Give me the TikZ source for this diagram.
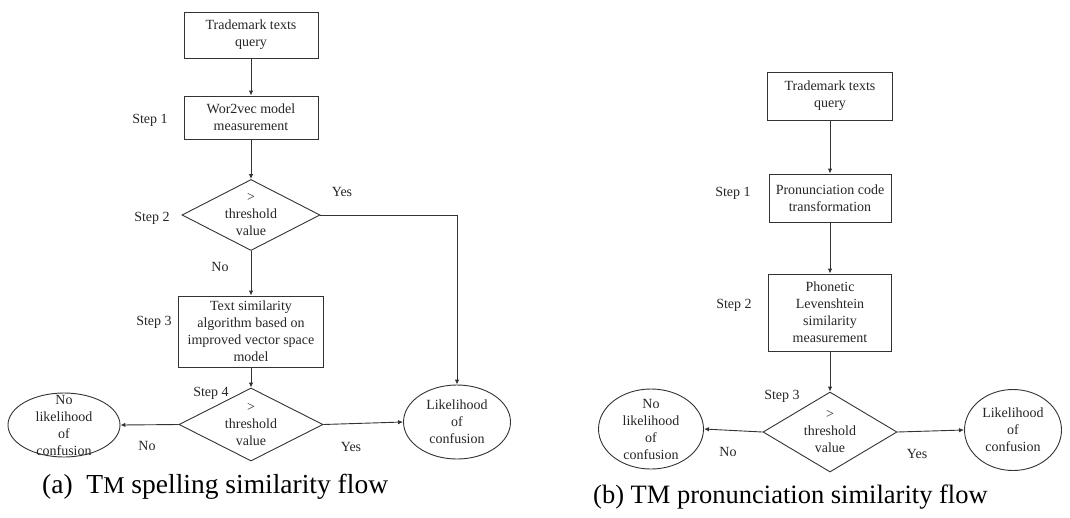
\documentclass[tikz,border=0pt]{standalone}
\usepackage{fontspec}
\setmainfont{Liberation Serif}
\usetikzlibrary{shapes.geometric,arrows.meta}
\begin{document}
\begin{tikzpicture}[x=1pt,y=-1pt,
  every node/.style={font=\fontsize{14}{17}\selectfont, text=black!85, inner sep=0pt},
  stepbox/.style={draw=black!80, line width=0.9pt, rectangle, align=center},
  dec/.style={draw=black!80, line width=0.9pt, diamond},
  ell/.style={draw=black!80, line width=0.9pt, ellipse},
  intext/.style={align=center},
  lbl/.style={font=\fontsize{14}{17}\selectfont},
  captxt/.style={anchor=base west, text=black, font=\fontsize{26.5}{30}\selectfont},
  arr/.style={draw=black!80, line width=0.9pt, -{Latex[length=5pt,width=4.5pt]}}]
\useasboundingbox (0,0) rectangle (1070,517);

% ---------- (a) ----------
\node[stepbox, minimum width=134pt, minimum height=46pt] (a1) at (251,35) {Trademark texts\\query};
\node[stepbox, minimum width=134pt, minimum height=43pt] (a2) at (251,117.5) {Wor2vec model\\measurement};
\node[dec, minimum width=138pt, minimum height=71pt] (ad1) at (251,215) {};
\node[intext] (ad1t) at (ad1) {>\\threshold\\value};
\node[stepbox, minimum width=145pt, minimum height=71pt] (a3) at (251,331.5) {Text similarity\\algorithm based on\\improved vector space\\model};
\node[dec, minimum width=144pt, minimum height=73pt] (ad2) at (251,424.5) {};
\node[intext] (ad2t) at (ad2) {>\\threshold\\value};
\node[ell, minimum width=112pt, minimum height=64pt] (ae1) at (64,425) {};
\node[intext] (ae1t) at (ae1) {No\\likelihood\\of\\confusion};
\node[ell, minimum width=107pt, minimum height=74pt] (ae2) at (457,422) {};
\node[intext] (ae2t) at (ae2) {Likelihood\\of\\confusion};

\node[lbl] (as1) at (150,120) {Step 1};
\node[lbl] (as2) at (152,218) {Step 2};
\node[lbl] (ay1) at (342,192) {Yes};
\node[lbl] (an1) at (220,267) {No};
\node[lbl] (as3) at (154,322) {Step 3};
\node[lbl] (as4) at (211,393) {Step 4};
\node[lbl] (an2) at (147,446) {No};
\node[lbl] (ay2) at (351,447) {Yes};

\draw[arr] (a1.south) -- (a2.north);
\draw[arr] (a2.south) -- (ad1.north);
\draw[arr] (ad1.south) -- (a3.north);
\draw[arr] (a3.south) -- (ad2.north);
\draw[arr] (ad1.east) -- (ad1.east -| ae2.north) -- (ae2.north);
\draw[arr] (ad2.west) -- (ae1.east);
\draw[arr] (ad2.east) -- (ae2.west);

\node[captxt, font=\fontsize{27.5}{30}\selectfont] (capa) at (42,493) {(a)\ \ T{\fontsize{24}{26}\selectfont M} spelling similarity flow};

% ---------- (b) ----------
\node[stepbox, minimum width=125pt, minimum height=48pt] (b1) at (830,96) {Trademark texts\\query};
\node[stepbox, minimum width=122pt, minimum height=48pt] (b2) at (830,198) {Pronunciation code\\transformation};
\node[stepbox, minimum width=123pt, minimum height=77pt] (b3) at (830,312.5) {Phonetic\\Levenshtein\\similarity\\measurement};
\node[dec, minimum width=134pt, minimum height=80pt] (bd) at (830,432) {};
\node[intext] (bdt) at (bd) {>\\threshold\\value};
\node[ell, minimum width=105pt, minimum height=80pt] (be1) at (651,429) {};
\node[intext] (be1t) at (be1) {No\\likelihood\\of\\confusion};
\node[ell, minimum width=97pt, minimum height=81pt] (be2) at (1013,430) {};
\node[intext] (be2t) at (be2) {Likelihood\\of\\confusion};

\node[lbl] (bs1) at (733,193) {Step 1};
\node[lbl] (bs2) at (734,305) {Step 2};
\node[lbl] (bs3) at (782,396) {Step 3};
\node[lbl] (bn) at (728,452) {No};
\node[lbl] (by) at (917,454) {Yes};

\draw[arr] (b1.south) -- (b2.north);
\draw[arr] (b2.south) -- (b3.north);
\draw[arr] (b3.south) -- (bd.north);
\draw[arr] (bd.west) -- (be1.east);
\draw[arr] (bd.east) -- (be2.west);

\node[captxt] (capb) at (593,503) {(b) TM pronunciation similarity flow};
\end{tikzpicture}
\end{document}
